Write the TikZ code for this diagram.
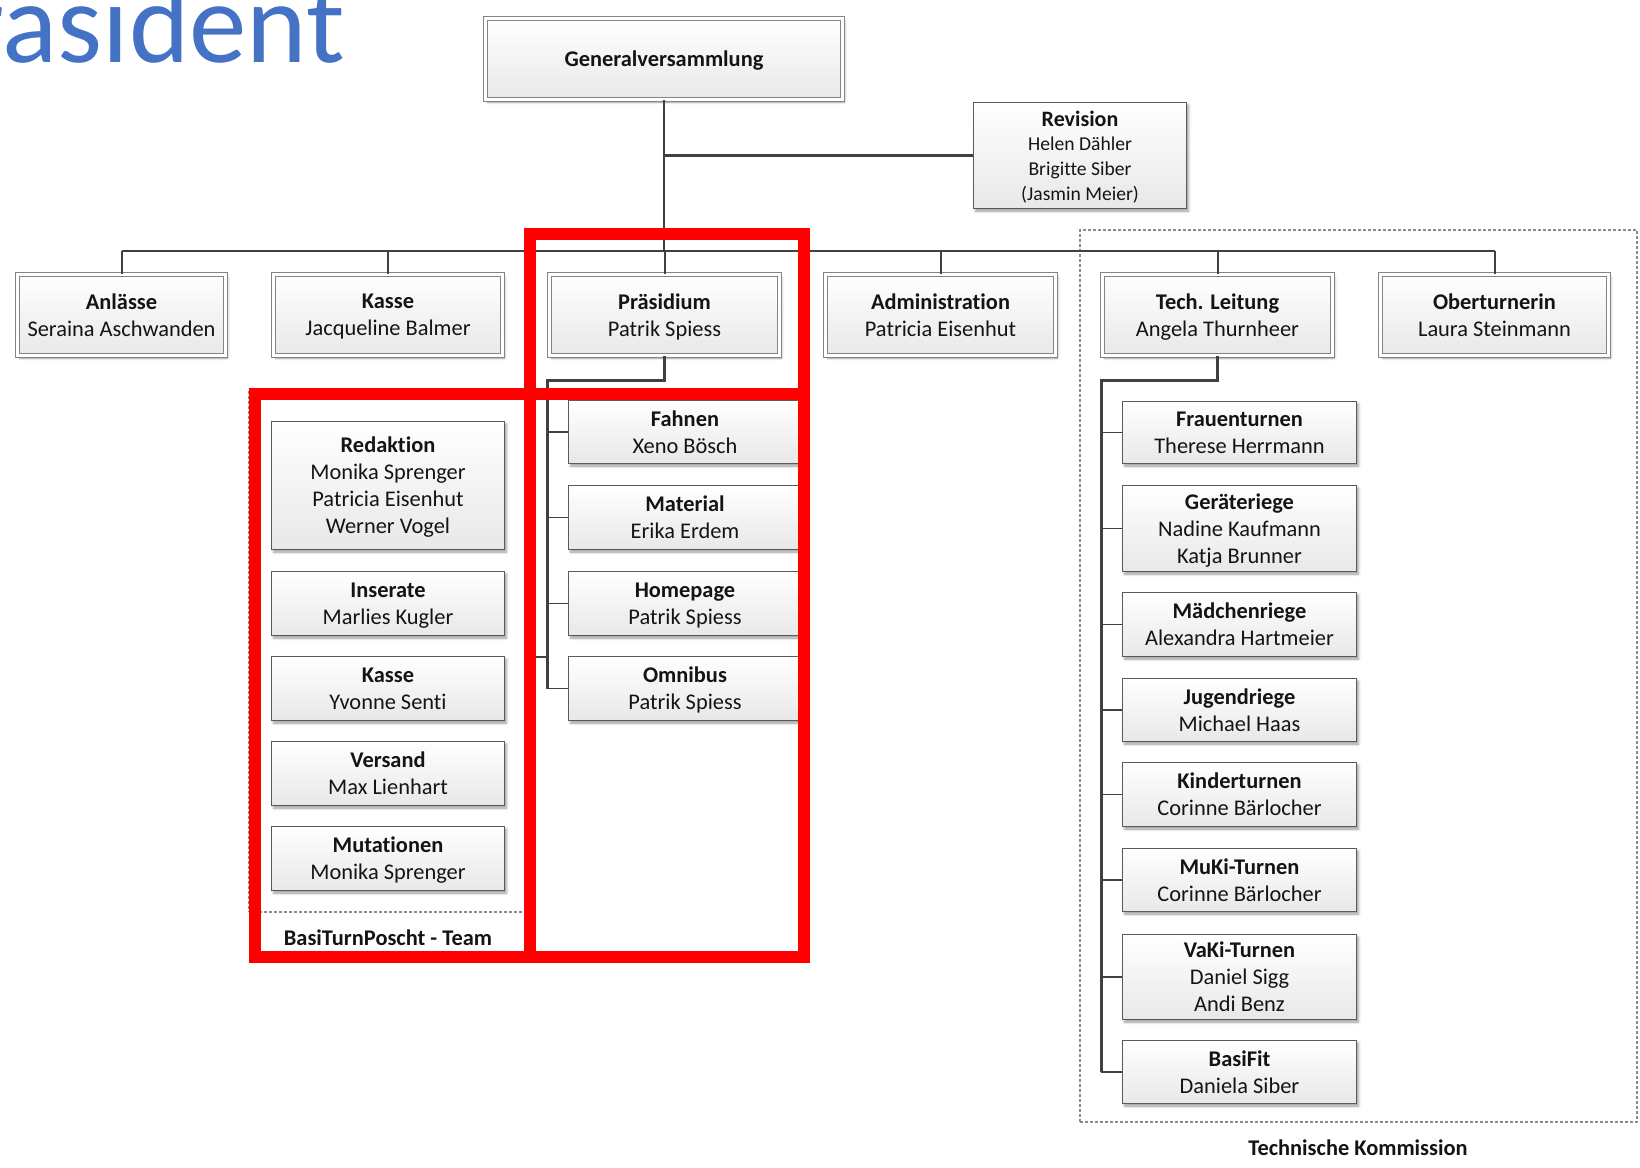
\documentclass[tikz,border=0pt]{standalone}
\usepackage{fontspec}
\setmainfont{Carlito}[Ligatures=NoCommon]
\usetikzlibrary{shadows.blur}
\newdimen\upx \upx=0.5pt
\definecolor{bord}{HTML}{5A5A5A}
\definecolor{bordl}{HTML}{858585}
\definecolor{conncol}{HTML}{404040}
\definecolor{titleblue}{HTML}{4472C4}
\definecolor{dashcol}{HTML}{8A8A8A}
\definecolor{redmark}{HTML}{FF0000}
\begin{document}
\begin{tikzpicture}[x=0.5pt,y=-0.5pt,
  txt/.style={font=\fontsize{11.2}{13.5}\selectfont, align=center, text=black!92, inner sep=0pt,
    execute at begin node={\rule{0pt}{7pt}}, text depth=0pt},
  shadefill/.style={top color=white, bottom color=black!9,
    blur shadow={shadow xshift=2\upx, shadow yshift=-2.5\upx, shadow blur radius=2.5\upx, shadow opacity=40}},
  dbox/.style 2 args={txt, shadefill, draw=bordl, line width=0.55pt, double=white, double distance=1.4pt,
    minimum width=#1\upx, minimum height=#2\upx},
  sbox/.style 2 args={txt, shadefill, draw=bord, line width=0.65pt,
    minimum width=#1\upx, minimum height=#2\upx},
  grp/.style 2 args={draw=dashcol, line width=0.6pt, dash pattern=on 1.5pt off 1pt,
    minimum width=#1\upx, minimum height=#2\upx, inner sep=0pt},
  lbl/.style={font={\fontsize{11.2}{13.5}\selectfont\bfseries}, text=black!92, inner sep=0pt},
  bus/.style={draw=conncol, line width=1.3pt},
  drop/.style={draw=conncol, line width=1.0pt},
  sub/.style={draw=conncol, line width=1.5pt},
  stub/.style={draw=conncol, line width=0.85pt},
  redline/.style={draw=redmark, line width=6.25pt}
]
\useasboundingbox (0,0) rectangle (1640,1168);
\clip (0,0) rectangle (1640,1168);

% title fragment
\node[anchor=base west, font=\fontsize{57.5}{60}\selectfont, text=titleblue, inner sep=0pt] (ptitle) at (-95,62) {Präsident};

% group frames
\node[grp={557}{892}] (tk) at (1358.5,676) {};
\node[lbl] (tklabel) at (1358,1148) {Technische Kommission};
\node[grp={278}{520}] (team) at (388,652) {};
\node[lbl] (teamlabel) at (388,938) {BasiTurnPoscht - Team};

% top
\node[dbox={357}{81}] (gv) at (664,59) {\textbf{Generalversammlung}};
\node[sbox={213}{106}, font=\fontsize{9.8}{12.3}\selectfont] (rev) at (1080,155.5)
  {{\fontsize{11}{12.3}\selectfont\bfseries Revision}\\Helen Dähler\\Brigitte Siber\\(Jasmin Meier)};

% level 2
\node[dbox={208}{81}] (anl) at (121.5,315) {\textbf{Anlässe}\\Seraina Aschwanden};
\node[dbox={229}{81}] (kas) at (388,315) {\textbf{Kasse}\\Jacqueline Balmer};
\node[dbox={230}{81}] (prae) at (664.5,315) {\textbf{Präsidium}\\Patrik Spiess};
\node[dbox={230}{81}] (adm) at (940.5,315) {\textbf{Administration}\\Patricia Eisenhut};
\node[dbox={230}{81}] (tech) at (1217.5,315) {\textbf{Tech. Leitung}\\Angela Thurnheer};
\node[dbox={228}{81}] (obt) at (1494.5,315) {\textbf{Oberturnerin}\\Laura Steinmann};

% Präsidium children
\node[sbox={233}{63}] (fah) at (685,432) {\textbf{Fahnen}\\Xeno Bösch};
\node[sbox={233}{64}] (mat) at (685,517.5) {\textbf{Material}\\Erika Erdem};
\node[sbox={233}{64}] (hom) at (685,603.5) {\textbf{Homepage}\\Patrik Spiess};
\node[sbox={233}{64}] (omn) at (685,688.5) {\textbf{Omnibus}\\Patrik Spiess};

% team
\node[sbox={233}{128}] (red) at (388,485.5) {\textbf{Redaktion}\\Monika Sprenger\\Patricia Eisenhut\\Werner Vogel};
\node[sbox={233}{64}] (ins) at (388,603.5) {\textbf{Inserate}\\Marlies Kugler};
\node[sbox={233}{64}] (tkas) at (388,688.5) {\textbf{Kasse}\\Yvonne Senti};
\node[sbox={233}{64}] (ver) at (388,773.5) {\textbf{Versand}\\Max Lienhart};
\node[sbox={233}{64}] (mut) at (388,858.5) {\textbf{Mutationen}\\Monika Sprenger};

% tech children
\node[sbox={234}{62}] (fra) at (1239.5,432.5) {\textbf{Frauenturnen}\\Therese Herrmann};
\node[sbox={234}{86}] (ger) at (1239.5,528.5) {\textbf{Geräteriege}\\Nadine Kaufmann\\Katja Brunner};
\node[sbox={234}{64}] (mae) at (1239.5,624.5) {\textbf{Mädchenriege}\\Alexandra Hartmeier};
\node[sbox={234}{63}] (jug) at (1239.5,710) {\textbf{Jugendriege}\\Michael Haas};
\node[sbox={234}{64}] (kin) at (1239.5,794.5) {\textbf{Kinderturnen}\\Corinne Bärlocher};
\node[sbox={234}{63}] (muk) at (1239.5,880) {\textbf{MuKi-Turnen}\\Corinne Bärlocher};
\node[sbox={234}{85}] (vak) at (1239.5,977) {\textbf{VaKi-Turnen}\\Daniel Sigg\\Andi Benz};
\node[sbox={234}{63}] (bfit) at (1239.5,1072) {\textbf{BasiFit}\\Daniela Siber};

% connectors
\coordinate (busy) at (0,251);
\draw[bus] (gv.south) -- (gv.south |- busy);
\draw[bus] (anl.north |- busy) -- (obt.north |- busy);
\draw[bus] (rev.west) -- (rev.west -| gv.south);
\foreach \n in {anl,kas,prae,adm,tech,obt} \draw[drop] (\n.north) -- (\n.north |- busy);

\coordinate (pj) at (547,380);
\draw[sub] (prae.south) |- (pj) -- (pj |- omn.west);
\foreach \n in {fah,mat,hom,omn} \draw[stub] (pj |- \n.west) -- (\n.west);
\coordinate (teamstub) at (527,657);
\draw[stub] (pj |- teamstub) -- (teamstub);

\coordinate (tj) at (1101,380);
\draw[sub] (tech.south) |- (tj) -- (tj |- bfit.west);
\foreach \n in {fra,ger,mae,jug,kin,muk,vak,bfit} \draw[stub] (tj |- \n.west) -- (\n.west);

% red annotation marks
\draw[redline] (530,234) rectangle (804,394);
\draw[redline] (255,394) rectangle (804,957);
\draw[redline] (530,394) -- (530,957);
\end{tikzpicture}
\end{document}
